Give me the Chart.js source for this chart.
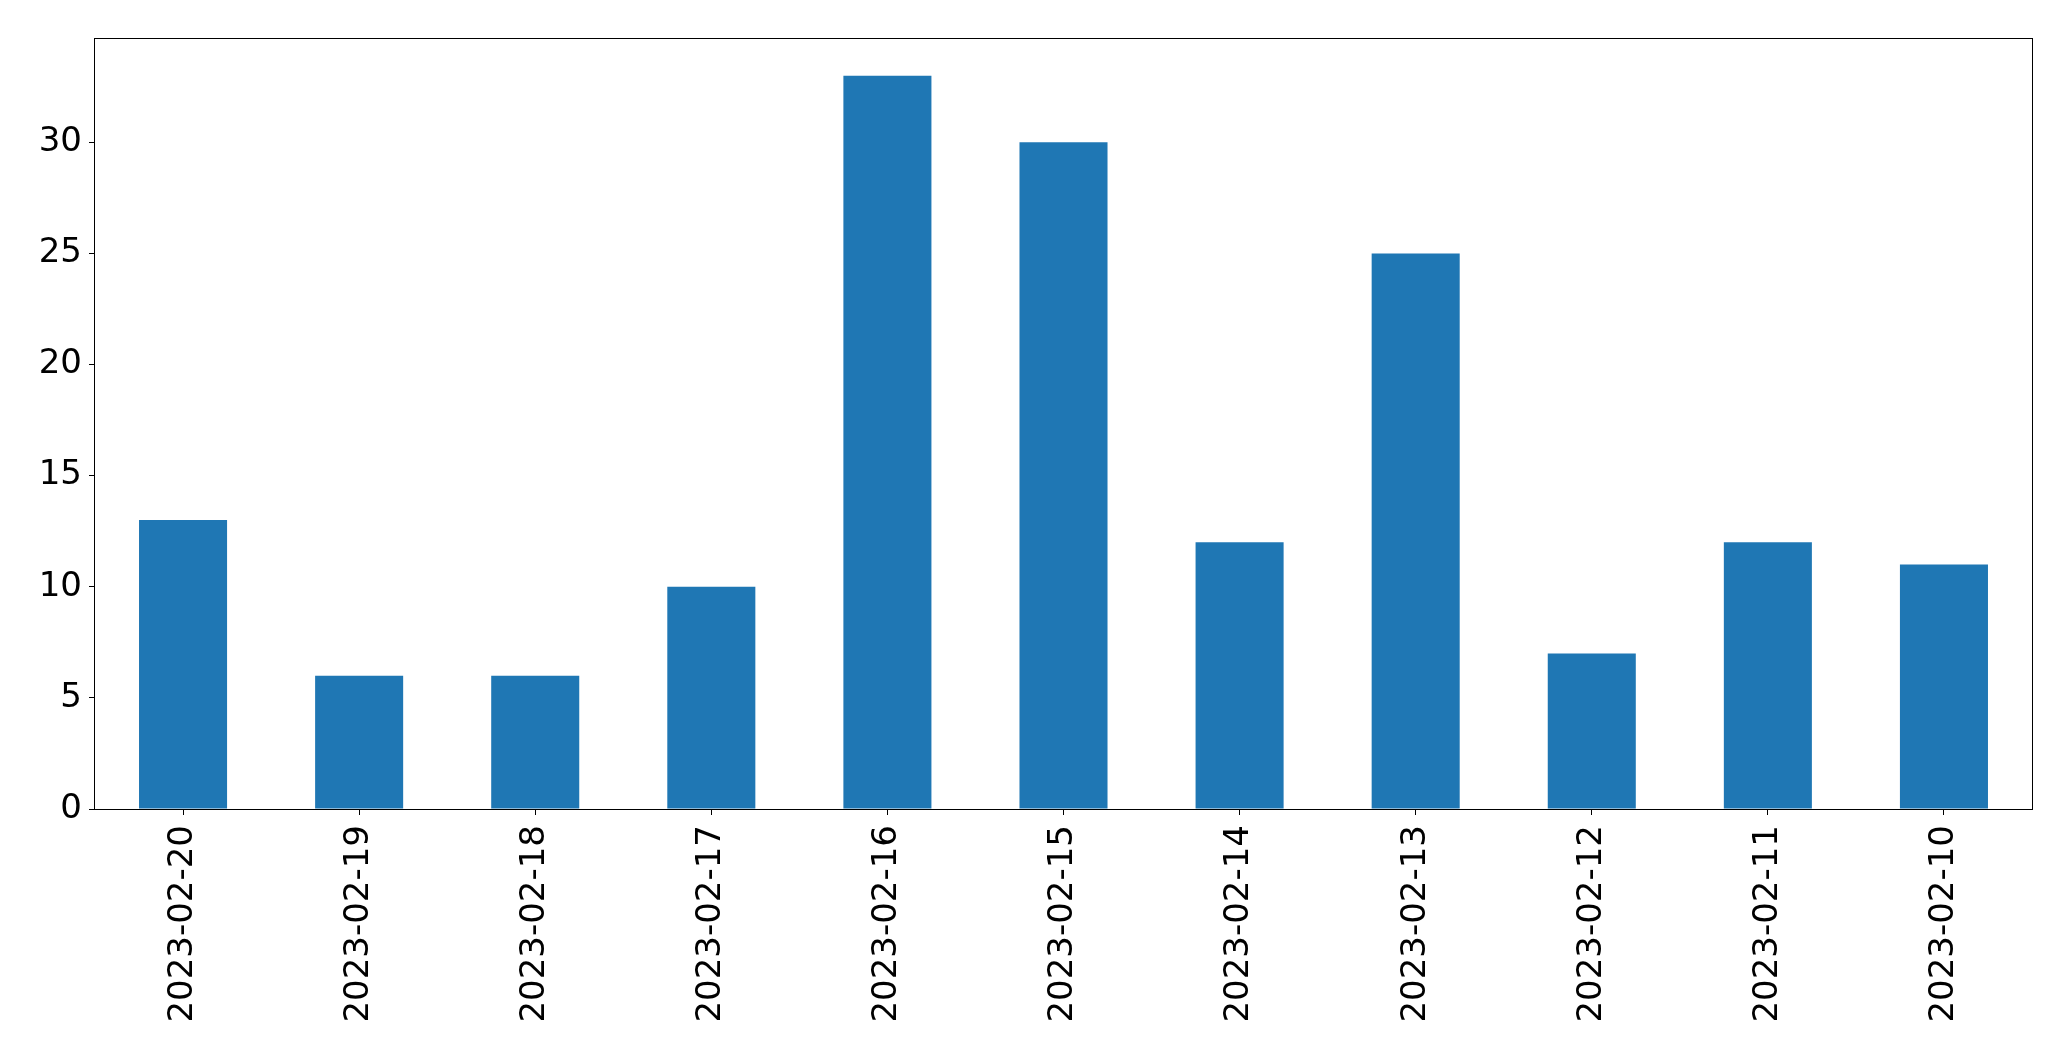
<!DOCTYPE html>
<html>
<head>
<meta charset="utf-8">
<script src="https://cdn.jsdelivr.net/npm/chart.js@4/dist/chart.umd.min.js"></script>
<style>
  html, body { margin: 0; padding: 0; background: #fff; }
  #wrap { width: 2071px; height: 1061px; }
</style>
</head>
<body>
<div id="wrap"><canvas id="chart" width="2071" height="1061"></canvas></div>
<script>
const dates = ["2023-02-20", "2023-02-19", "2023-02-18", "2023-02-17", "2023-02-16", "2023-02-15",
  "2023-02-14", "2023-02-13", "2023-02-12", "2023-02-11", "2023-02-10"];
const counts = [13, 6, 6, 10, 33, 30, 12, 25, 7, 12, 11];
const yTicks = [0, 5, 10, 15, 20, 25, 30];

const FONT = "'DejaVu Sans', sans-serif";

// full black frame round the plot, like matplotlib
const frame = {
  id: "frame",
  afterDatasetsDraw(chart) {
    const { ctx, chartArea: a } = chart;
    const l = Math.round(a.left) - 0.5, t = Math.round(a.top) - 0.5;
    const r = Math.round(a.right) + 0.5, b = Math.round(a.bottom) + 0.5;
    ctx.save();
    ctx.strokeStyle = "#000";
    ctx.lineWidth = 1;
    ctx.strokeRect(l, t, r - l, b - t);
    ctx.restore();
  }
};

new Chart(document.getElementById("chart"), {
  type: "bar",
  data: {
    labels: dates,
    datasets: [{
      data: counts,
      backgroundColor: "#1f77b4",
      borderWidth: 0,
      categoryPercentage: 1.0,
      barPercentage: 0.5,
    }]
  },
  options: {
    responsive: false,
    animation: false,
    layout: { padding: { top: 39, right: 39, left: 0, bottom: 0 } },
    plugins: { legend: { display: false }, tooltip: { enabled: false } },
    scales: {
      x: {
        offset: true,
        grid: { drawOnChartArea: false, tickLength: 6, tickColor: "#000", tickWidth: 1, offset: false },
        border: { display: false },
        ticks: {
          color: "#000",
          font: { family: FONT, size: 34 },
          maxRotation: 90,
          minRotation: 90,
          padding: 10,
          autoSkip: false,
        },
        afterFit(scale) { scale.height = 252; }
      },
      y: {
        min: 0,
        max: 34.65,
        afterBuildTicks(scale) { scale.ticks = yTicks.map(v => ({ value: v })); },
        grid: { drawOnChartArea: false, tickLength: 6, tickColor: "#000", tickWidth: 1 },
        border: { display: false },
        ticks: {
          color: "#000",
          font: { family: FONT, size: 34 },
          padding: 7,
        },
        afterFit(scale) { scale.width = 95; }
      }
    }
  },
  plugins: [frame]
});
</script>
</body>
</html>
